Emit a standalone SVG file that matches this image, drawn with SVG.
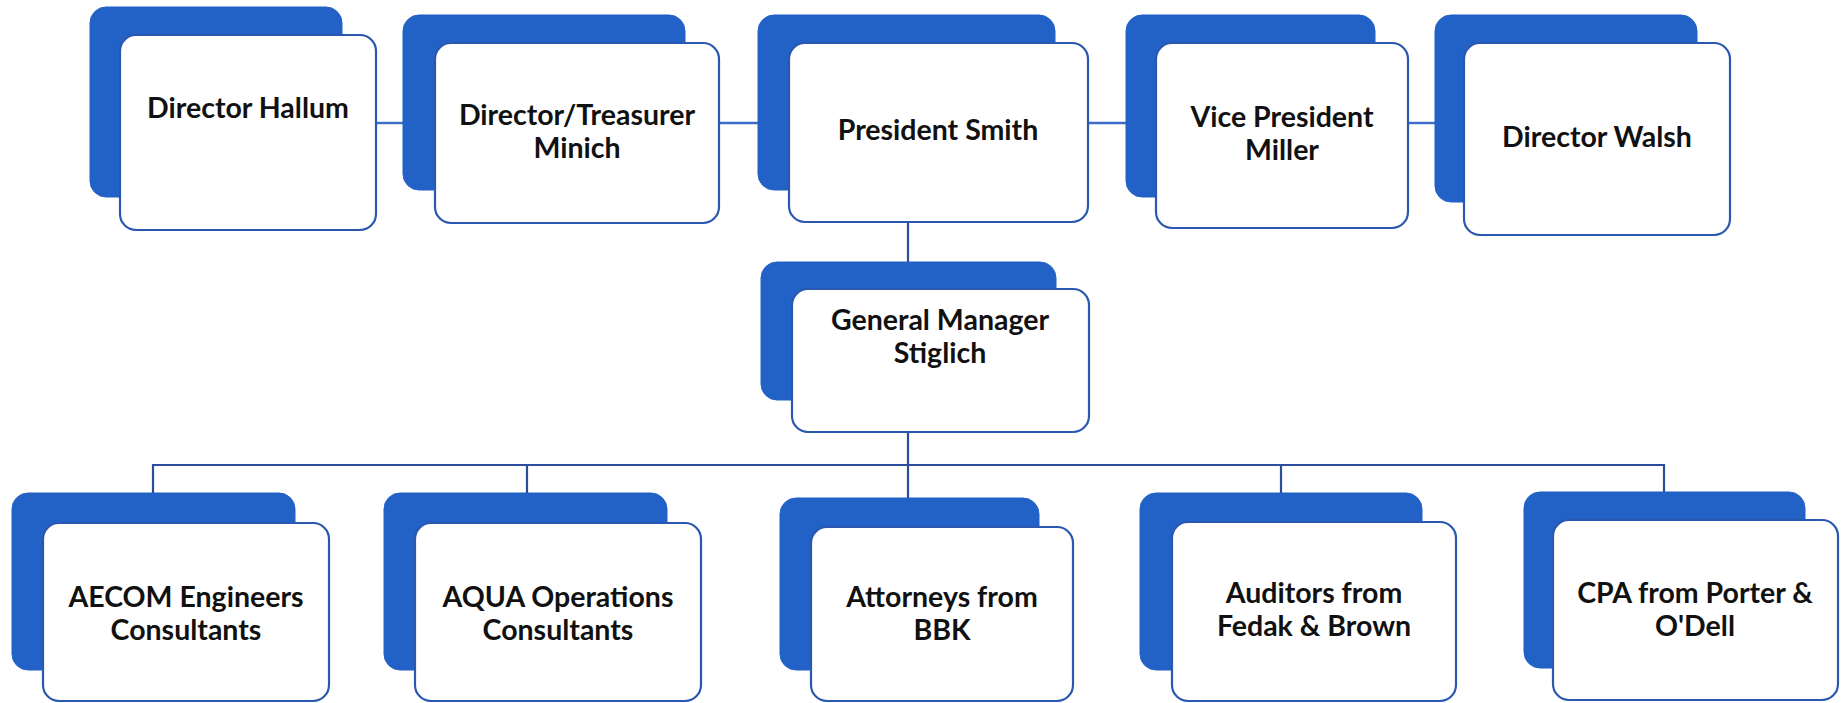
<svg xmlns="http://www.w3.org/2000/svg" width="1845" height="703" viewBox="0 0 1845 703">
<style>
.bk{fill:#2261c6;stroke:#2261c6;stroke-width:1}
.fr{fill:#ffffff;stroke:#2a58b0;stroke-width:2.2}
.tx{font-family:Lato,"Liberation Sans",sans-serif;font-weight:700;font-size:28.5px;fill:#111111;text-anchor:middle}
.cn{fill:none;stroke:#3a6cc8;stroke-width:2.4}
.cd{fill:none;stroke:#2c4c9c;stroke-width:2.2}
</style>
<rect width="1845" height="703" fill="#ffffff"/>
<g id="connectors">
<line class="cn" x1="376" y1="123" x2="403" y2="123"/>
<line class="cn" x1="719" y1="123" x2="758" y2="123"/>
<line class="cn" x1="1088" y1="123" x2="1126" y2="123"/>
<line class="cn" x1="1408" y1="123" x2="1435" y2="123"/>
<line class="cd" x1="908" y1="222" x2="908" y2="262"/>
<line class="cd" x1="908" y1="432" x2="908" y2="498"/>
<polyline class="cd" points="153,493 153,465 1664,465 1664,492"/>
<line class="cd" x1="527" y1="465" x2="527" y2="493"/>
<line class="cd" x1="1281" y1="465" x2="1281" y2="493"/>
</g>
<g id="hallum">
<rect class="bk" x="90" y="7" width="252" height="190" rx="16"/>
<rect class="fr" x="120" y="35" width="256" height="195" rx="16"/>
<text class="tx" x="248" y="118">Director Hallum</text>
</g>
<g id="minich">
<rect class="bk" x="403" y="15" width="282" height="175" rx="16"/>
<rect class="fr" x="435" y="43" width="284" height="180" rx="16"/>
<text class="tx" x="577" y="125">Director/Treasurer</text>
<text class="tx" x="577" y="158">Minich</text>
</g>
<g id="smith">
<rect class="bk" x="758" y="15" width="297" height="175" rx="16"/>
<rect class="fr" x="789" y="43" width="299" height="179" rx="16"/>
<text class="tx" x="938" y="140">President Smith</text>
</g>
<g id="miller">
<rect class="bk" x="1126" y="15" width="249" height="182" rx="16"/>
<rect class="fr" x="1156" y="43" width="252" height="185" rx="16"/>
<text class="tx" x="1282" y="127">Vice President</text>
<text class="tx" x="1282" y="160">Miller</text>
</g>
<g id="walsh">
<rect class="bk" x="1435" y="15" width="262" height="187" rx="16"/>
<rect class="fr" x="1464" y="43" width="266" height="192" rx="16"/>
<text class="tx" x="1597" y="147">Director Walsh</text>
</g>
<g id="stiglich">
<rect class="bk" x="761" y="262" width="295" height="138" rx="16"/>
<rect class="fr" x="792" y="289" width="297" height="143" rx="16"/>
<text class="tx" x="940" y="330">General Manager</text>
<text class="tx" x="940" y="363">Stiglich</text>
</g>
<g id="aecom">
<rect class="bk" x="12" y="493" width="283" height="177" rx="16"/>
<rect class="fr" x="43" y="523" width="286" height="178" rx="16"/>
<text class="tx" x="186" y="607">AECOM Engineers</text>
<text class="tx" x="186" y="640">Consultants</text>
</g>
<g id="aqua">
<rect class="bk" x="384" y="493" width="283" height="177" rx="16"/>
<rect class="fr" x="415" y="523" width="286" height="178" rx="16"/>
<text class="tx" x="558" y="607">AQUA Operations</text>
<text class="tx" x="558" y="640">Consultants</text>
</g>
<g id="bbk">
<rect class="bk" x="780" y="498" width="259" height="172" rx="16"/>
<rect class="fr" x="811" y="527" width="262" height="174" rx="16"/>
<text class="tx" x="942" y="607">Attorneys from</text>
<text class="tx" x="942" y="640">BBK</text>
</g>
<g id="fedak">
<rect class="bk" x="1140" y="493" width="282" height="177" rx="16"/>
<rect class="fr" x="1172" y="522" width="284" height="179" rx="16"/>
<text class="tx" x="1314" y="603">Auditors from</text>
<text class="tx" x="1314" y="636">Fedak &amp; Brown</text>
</g>
<g id="odell">
<rect class="bk" x="1524" y="492" width="281" height="176" rx="16"/>
<rect class="fr" x="1553" y="520" width="285" height="180" rx="16"/>
<text class="tx" x="1695" y="603">CPA from Porter &amp;</text>
<text class="tx" x="1695" y="636">O'Dell</text>
</g>
</svg>
